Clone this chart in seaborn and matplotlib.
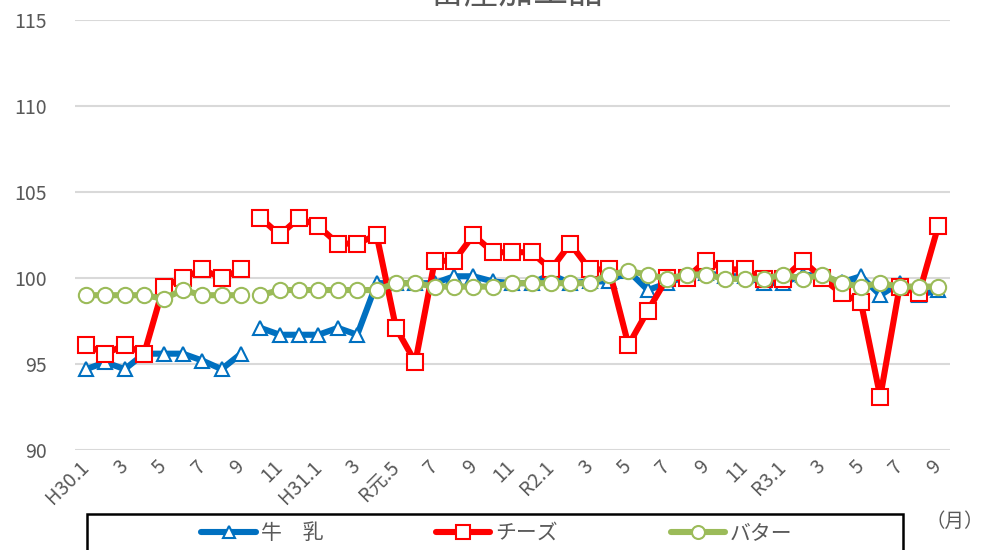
import numpy as np
import pandas as pd
import matplotlib
matplotlib.use("Agg")
import matplotlib.pyplot as plt
from matplotlib.lines import Line2D
from matplotlib.patches import Rectangle
import seaborn as sns

# ---- data ----
tick_labels = ["H30.1", "3", "5", "7", "9", "11", "H31.1", "3", "R元.5", "7", "9", "11",
               "R2.1", "3", "5", "7", "9", "11", "R3.1", "3", "5", "7", "9"]
series_names = ["牛　乳", "チーズ", "バター"]
milk = [94.7, 95.1, 94.7, 95.6, 95.6, 95.6, 95.2, 94.7, 95.6,
        97.1, 96.7, 96.7, 96.7, 97.1, 96.7, 99.7, 99.7, 99.7, 99.7, 100.1,
        100.1, 99.8, 99.7, 99.7, 100.2, 99.7, 99.8, 99.8, 100.4, 99.3,
        99.7, 100.1, 100.3, 100.1, 100.1, 99.7, 99.7, 100.2, 100.1, 99.75,
        100.1, 99.0, 99.7, 99.0, 99.3]
cheese = [96.1, 95.6, 96.1, 95.6, 99.5, 100.0, 100.5, 100.0, 100.5,
          103.5, 102.5, 103.5, 103.0, 102.0, 102.0, 102.5, 97.1, 95.1, 101.0, 101.0,
          102.5, 101.5, 101.5, 101.5, 100.5, 102.0, 100.5, 100.5, 96.1, 98.1,
          100.0, 100.0, 101.0, 100.5, 100.5, 99.95, 99.95, 101.0, 100.0, 99.1,
          98.6, 93.1, 99.5, 99.1, 103.05]
butter = [99.0, 99.0, 99.0, 99.0, 98.8, 99.3, 99.0, 99.0, 99.0,
          99.0, 99.3, 99.3, 99.3, 99.3, 99.3, 99.3, 99.7, 99.7, 99.5, 99.5,
          99.5, 99.5, 99.7, 99.7, 99.7, 99.7, 99.7, 100.2, 100.4, 100.2,
          99.95, 100.2, 100.2, 99.95, 99.95, 99.95, 100.2, 99.95, 100.2, 99.7,
          99.5, 99.7, 99.5, 99.5, 99.5]
# series break after the 9th month (index 8)
segment = [0] * 9 + [1] * 36

colors = {"牛　乳": "#0070C0", "チーズ": "#FF0000", "バター": "#9BBB59"}
markers = {"牛　乳": "^", "チーズ": "s", "バター": "o"}
msizes = {"牛　乳": 10, "チーズ": 12, "バター": 11}

n = len(milk)
df = pd.DataFrame({
    "idx": list(range(n)) * 3,
    "val": milk + cheese + butter,
    "series": [series_names[0]] * n + [series_names[1]] * n + [series_names[2]] * n,
    "seg": segment * 3,
})

sns.set_theme(style="white")
plt.rcParams["font.family"] = ["Noto Sans CJK JP", "DejaVu Sans"]

fig = plt.figure(figsize=(9.85, 5.5), dpi=100)
ax = fig.add_axes([75 / 985, 1 - 450 / 550, (950 - 75) / 985, 430 / 550])

for name in series_names:
    sub = df[df["series"] == name]
    sns.lineplot(data=sub, x="idx", y="val", units="seg", estimator=None,
                 color=colors[name], lw=4.4, marker=markers[name],
                 markersize=msizes[name], markerfacecolor="white",
                 markeredgecolor=colors[name], markeredgewidth=1.5,
                 ax=ax, legend=False, clip_on=False)

for ln in ax.lines:
    ln.set_markeredgecolor(ln.get_color())

ax.set_xlim(-0.57, 44.6)
ax.set_ylim(90, 115)
ax.set_yticks([90, 95, 100, 105, 110, 115])
ax.set_xticks(list(range(0, n, 2)))
ax.set_xticklabels(tick_labels, rotation=45, ha="right", rotation_mode="anchor",
                   va="center")
ax.tick_params(axis="y", length=0, pad=20, labelsize=14, labelcolor="#595959")
ax.tick_params(axis="x", length=0, pad=10, labelsize=14, labelcolor="#595959")
ax.set_xlabel("")
ax.set_ylabel("")
ax.yaxis.grid(True, color="#d9d9d9", lw=1.5)
ax.xaxis.grid(False)
ax.set_axisbelow(True)
for s in ax.spines.values():
    s.set_visible(False)

# title (partially cut at top, as in reference)
fig.text(516 / 985, 1 - 2 / 550, "畜産加工品", ha="center", va="baseline",
         fontsize=25, color="#595959")

# month unit
fig.text(955 / 985, 1 - 521 / 550, "（月）", ha="center", va="center",
         fontsize=14, color="#595959")

# legend box
rect = Rectangle((87 / 985, -0.05), (903 - 87) / 985, 0.05 + 1 - 514 / 550,
                 transform=fig.transFigure, fill=False, edgecolor="black",
                 lw=1.8, clip_on=False)
fig.patches.append(rect)

handles = [Line2D([0], [0], color=colors[nm], lw=4.4, marker=markers[nm],
                  markersize=msizes[nm] * 0.85, markerfacecolor="white",
                  markeredgecolor=colors[nm], markeredgewidth=1.5)
           for nm in series_names]
fig.legend(handles, series_names, loc="center", ncol=3,
           bbox_to_anchor=(497 / 985, 1 - 533 / 550), frameon=False,
           fontsize=15, handlelength=2.6, handletextpad=0.25,
           columnspacing=5.4, labelcolor="#595959")

fig.savefig("out.png", dpi=100)
